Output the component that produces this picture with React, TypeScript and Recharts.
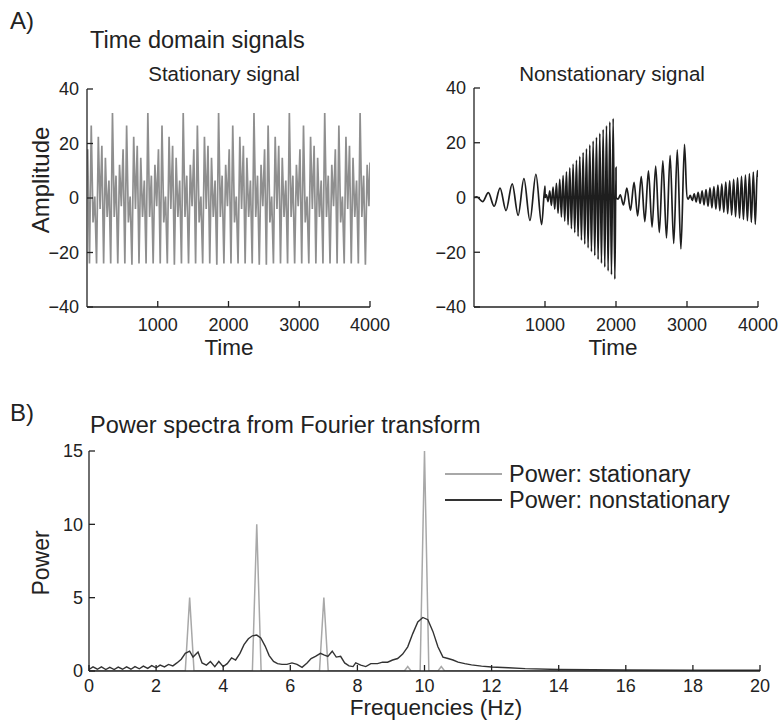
import React from "react";
import { LineChart, Line, XAxis, YAxis } from "recharts";

const FONT = '"Liberation Sans", Arial, Helvetica, sans-serif';
const INK = "#222";

// A) stationary signal, read as extrema: one row per 500-unit cycle
const stationaryStart = 14;
const stationaryEnd = 13;
const stationaryCycleStarts = [0, 500, 1000, 1500, 2000, 2500, 3000, 3500];
const stationaryOffsets = [10, 35, 60, 85, 110, 135, 160, 185, 210, 235, 260, 285, 310, 335, 360, 385, 410, 435, 460, 485];
const stationaryRows = [
  [17.9, -24, 26.6, -9, 0.5, -24, 22.5, -4, 19.2, -24, 14.8, -7, 6.4, -24, 31.2, -7, 8.2, -24, 12.2, -3],
  [17.9, -24, 26.6, -9, 0.5, -24.5, 22.5, -4, 19.2, -24, 14.8, -7, 6.4, -24, 31.2, -7, 8.2, -24, 12.2, -3],
  [17.9, -24, 26.6, -9, 0.5, -24, 22.5, -4, 19.2, -24.5, 14.8, -7, 6.4, -24, 31.2, -7, 8.2, -24, 12.2, -3],
  [17.9, -24, 26.6, -9, 0.5, -24, 22.5, -4, 19.2, -24, 14.8, -7, 6.4, -24.5, 31.2, -7, 8.2, -24, 12.2, -3],
  [17.9, -24, 26.6, -9, 0.5, -24, 22.5, -4, 19.2, -24, 14.8, -7, 6.4, -24, 31.2, -7, 8.2, -24.5, 12.2, -3],
  [17.9, -24.5, 26.6, -9, 0.5, -24, 22.5, -4, 19.2, -24, 14.8, -7, 6.4, -24, 31.2, -7, 8.2, -24, 12.2, -3],
  [17.9, -24, 26.6, -9, 0.5, -24, 22.5, -4, 19.2, -24, 14.8, -7, 6.4, -24, 31.2, -7, 8.2, -24, 12.2, -3],
  [17.9, -24, 26.6, -9, 0.5, -24, 22.5, -4, 19.2, -24, 14.8, -7, 6.4, -24, 31.2, -7, 8.2, -24.5, 12.2, -3],
];

// A) nonstationary signal, four segments read as extrema
const seg1Time = [0, 40, 122, 202, 284, 367, 451, 538, 622, 703, 788, 872, 953, 1000];
const seg1Amp = [0, 0.2, -1.5, 1.8, -3.2, 3.4, -4.8, 5.0, -6.5, 6.9, -8.4, 8.5, -9.9, 4.2];
const seg2Time = [1001, 1020, 1043, 1067, 1090, 1114, 1137, 1161, 1184, 1208, 1231, 1255, 1278, 1302, 1325, 1349, 1372, 1396, 1419, 1443, 1466, 1490, 1513, 1537, 1560, 1584, 1607, 1631, 1654, 1678, 1701, 1725, 1748, 1772, 1795, 1819, 1842, 1866, 1889, 1913, 1936, 1960, 1984, 2000];
const seg2Amp = [0, 1.0, -1.5, 2.4, -2.9, 3.8, -4.3, 5.2, -5.7, 6.6, -7.1, 8.0, -8.6, 9.4, -10.0, 10.8, -11.4, 12.2, -12.8, 13.6, -14.2, 15.0, -15.6, 16.4, -17.0, 17.8, -18.4, 19.2, -19.8, 20.6, -21.2, 22.0, -22.6, 23.4, -24.0, 24.8, -25.4, 26.2, -26.8, 27.6, -28.2, 28.8, -29.8, 11];
const seg3Time = [2001, 2030, 2060, 2105, 2153, 2204, 2254, 2305, 2356, 2406, 2457, 2508, 2559, 2610, 2660, 2711, 2762, 2813, 2863, 2914, 2965, 3000];
const seg3Amp = [0, -0.6, 1.0, -2.7, 3.4, -4.7, 5.5, -6.7, 7.6, -8.8, 9.7, -10.8, 11.5, -12.8, 13.4, -14.8, 15.4, -16.8, 17.4, -18.8, 19.4, 0];
const seg4Time = [3001, 3018, 3046, 3074, 3102, 3129, 3157, 3185, 3213, 3240, 3268, 3296, 3324, 3351, 3379, 3407, 3435, 3462, 3490, 3518, 3546, 3573, 3601, 3629, 3657, 3684, 3712, 3740, 3768, 3795, 3823, 3851, 3879, 3906, 3934, 3962, 3990, 4000];
const seg4Amp = [0, -0.6, 0.8, -1.1, 1.3, -1.6, 1.9, -2.2, 2.4, -2.7, 2.9, -3.2, 3.5, -3.8, 4.0, -4.3, 4.5, -4.8, 5.0, -5.4, 5.6, -5.9, 6.1, -6.4, 6.6, -7.0, 7.2, -7.5, 7.7, -8.0, 8.2, -8.5, 8.7, -9.1, 9.3, -9.8, 9.8, 7.5];

const timeTicks = [1000, 2000, 3000, 4000];
const ampTicks = [-40, -20, 0, 20, 40];

// B) power spectra
const statFreq = [0, 2.87, 3, 3.13, 4.87, 5, 5.13, 6.87, 7, 7.13, 9.4, 9.5, 9.6, 9.87, 10, 10.13, 10.4, 10.5, 10.6, 20];
const statPower = [0, 0, 5, 0, 0, 10, 0, 0, 5, 0, 0, 0.3, 0, 0, 15, 0, 0, 0.3, 0, 0];
const nonstatFreq = [0, 0.12, 0.25, 0.37, 0.5, 0.62, 0.75, 0.87, 1.0, 1.12, 1.25, 1.37, 1.5, 1.62, 1.75, 1.87, 2.0, 2.12, 2.25, 2.37, 2.5, 2.62, 2.75, 2.87, 3.0, 3.1, 3.25, 3.37, 3.5, 3.62, 3.75, 3.87, 4.0, 4.12, 4.25, 4.37, 4.5, 4.62, 4.75, 4.87, 5.0, 5.12, 5.25, 5.37, 5.5, 5.62, 5.75, 5.9, 6.05, 6.2, 6.35, 6.5, 6.62, 6.75, 6.9, 7.0, 7.12, 7.25, 7.37, 7.5, 7.62, 7.75, 7.87, 7.95, 8.1, 8.25, 8.4, 8.6, 8.75, 8.9, 9.05, 9.2, 9.35, 9.5, 9.65, 9.8, 9.95, 10.1, 10.25, 10.4, 10.55, 10.7, 10.85, 11.0, 11.2, 11.4, 11.7, 12.0, 12.5, 13.0, 14.0, 15.0, 16.0, 18.0, 20.0];
const nonstatPower = [0.1, 0.28, 0.12, 0.28, 0.1, 0.25, 0.1, 0.27, 0.12, 0.28, 0.12, 0.3, 0.15, 0.33, 0.18, 0.37, 0.22, 0.4, 0.28, 0.45, 0.35, 0.55, 0.8, 1.2, 1.35, 0.95, 1.3, 0.55, 0.4, 0.65, 0.3, 0.65, 0.3, 0.5, 0.9, 0.75, 1.2, 1.8, 2.2, 2.4, 2.45, 2.25, 1.7, 1.05, 0.65, 0.5, 0.45, 0.45, 0.55, 0.45, 0.25, 0.55, 0.85, 1.0, 1.2, 1.1, 1.0, 1.35, 0.95, 1.0, 0.55, 0.35, 0.3, 0.55, 0.4, 0.3, 0.5, 0.5, 0.6, 0.6, 0.75, 0.85, 1.15, 1.65, 2.55, 3.35, 3.65, 3.5, 2.7, 1.65, 0.95, 0.85, 0.75, 0.6, 0.5, 0.42, 0.33, 0.27, 0.22, 0.16, 0.1, 0.09, 0.07, 0.05, 0.05];
const freqTicks = [0, 2, 4, 6, 8, 10, 12, 14, 16, 18, 20];
const powerTicks = [0, 5, 10, 15];
const legendItems = ["Power: stationary", "Power: nonstationary"];
const specColors = ["#a8a8a8", "#333"];

const stationaryData = [
  { t: 0, v: stationaryStart },
  ...stationaryCycleStarts.flatMap((start, i) =>
    stationaryOffsets.map((off, j) => ({ t: start + off, v: stationaryRows[i][j] }))
  ),
  { t: 4000, v: stationaryEnd },
];

const nonstatTime = [...seg1Time, ...seg2Time, ...seg3Time, ...seg4Time];
const nonstatAmp = [...seg1Amp, ...seg2Amp, ...seg3Amp, ...seg4Amp];
const nonstationaryData = nonstatTime.map((t, i) => ({ t, v: nonstatAmp[i] }));

const statSpec = statFreq.map((f, i) => ({ f, p: statPower[i] }));
const nonstatSpec = nonstatFreq.map((f, i) => ({ f, p: nonstatPower[i] }));

const fmt = (v: number) => (v < 0 ? `\u2212${-v}` : `${v}`);
const axisLine = { stroke: INK, strokeWidth: 1.3 };

function Txt({ x, y, size, children, center = false, rotate = 0 }: any) {
  return (
    <div
      style={{
        position: "absolute",
        left: x,
        top: y,
        fontSize: size,
        lineHeight: 1,
        whiteSpace: "nowrap",
        color: INK,
        transform: `translate(${center ? "-50%" : "0"}, -50%) rotate(${rotate}deg)`,
      }}
    >
      {children}
    </div>
  );
}

function TimePanel({ data, color, width, left, type, marginLeft, marginRight, marginTop }: any) {
  return (
    <div style={{ position: "absolute", left, top: 60 }}>
      <LineChart width={width} height={290} margin={{ top: marginTop, right: marginRight, bottom: 13, left: marginLeft }}>
        <XAxis xAxisId="b" dataKey="t" type="number" domain={[0, 4000]} ticks={timeTicks} allowDataOverflow
          axisLine={axisLine} tickLine={axisLine} tickSize={-6} tickMargin={17} height={30}
          tick={{ fill: INK, fontSize: 18, fontFamily: FONT }} />
        <XAxis xAxisId="top" orientation="top" type="number" domain={[0, 4000]} ticks={[1000, 2000, 3000]} allowDataOverflow
          axisLine={axisLine} tickLine={axisLine} tickSize={-6} tick={false} height={0} />
        <YAxis yAxisId="l" type="number" domain={[-40, 40]} ticks={ampTicks} allowDataOverflow width={40}
          axisLine={axisLine} tickLine={axisLine} tickSize={-6} tickMargin={14} tickFormatter={fmt}
          tick={{ fill: INK, fontSize: 18, fontFamily: FONT }} />
        <YAxis yAxisId="r" orientation="right" type="number" domain={[-40, 40]} ticks={[-20, 0, 20]} allowDataOverflow width={0}
          axisLine={axisLine} tickLine={axisLine} tickSize={-6} tick={false} />
        <Line xAxisId="b" yAxisId="l" data={data} dataKey="v" type={type} stroke={color} strokeWidth={1.7}
          dot={false} isAnimationActive={false} />
      </LineChart>
    </div>
  );
}

function SpectrumLegend() {
  return (
    <div style={{ position: "absolute", left: 445, top: 461 }}>
      {legendItems.map((label, i) => (
        <div key={label} style={{ display: "flex", alignItems: "center", height: 26, fontSize: 23.5, color: INK }}>
          <svg width={64} height={10}>
            <line x1={0} y1={5} x2={57} y2={5} stroke={specColors[i]} strokeWidth={2.2} />
          </svg>
          <span>{label}</span>
        </div>
      ))}
    </div>
  );
}

export default function App() {
  return (
    <div style={{ position: "absolute", left: 0, top: 0, width: 781, height: 722, background: "#fff", fontFamily: FONT, overflow: "hidden" }}>
      <Txt x={10} y={21} size={24}>A)</Txt>
      <Txt x={90} y={41} size={23.5}>Time domain signals</Txt>
      <Txt x={224} y={74} size={20.5} center>Stationary signal</Txt>
      <Txt x={612} y={74} size={20.5} center>Nonstationary signal</Txt>
      <Txt x={41} y={180} size={24} center rotate={-90}>Amplitude</Txt>
      <Txt x={229} y={348} size={22.5} center>Time</Txt>
      <Txt x={613} y={348} size={22.5} center>Time</Txt>

      <TimePanel data={stationaryData} color="#8f8f8f" width={390} left={0} type="linear" marginLeft={47} marginRight={20} marginTop={29} />
      <TimePanel data={nonstationaryData} color="#1e1e1e" width={390} left={390} type="monotone" marginLeft={44} marginRight={22} marginTop={28} />

      <Txt x={10} y={413} size={24}>B)</Txt>
      <Txt x={90} y={426} size={23.5}>Power spectra from Fourier transform</Txt>
      <Txt x={41} y={563} size={23} center rotate={-90}>Power</Txt>
      <Txt x={436} y={708} size={22.5} center>Frequencies (Hz)</Txt>

      <div style={{ position: "absolute", left: 0, top: 400 }}>
        <LineChart width={781} height={300} margin={{ top: 51, right: 21, bottom: 4, left: 49 }}>
          <XAxis xAxisId="b" dataKey="f" type="number" domain={[0, 20]} ticks={freqTicks} allowDataOverflow
            axisLine={axisLine} tickLine={axisLine} tickSize={-6} tickMargin={14} height={25}
            tick={{ fill: INK, fontSize: 18, fontFamily: FONT }} />
          <XAxis xAxisId="top" orientation="top" type="number" domain={[0, 20]} ticks={freqTicks.slice(1, -1)} allowDataOverflow
            axisLine={axisLine} tickLine={axisLine} tickSize={-6} tick={false} height={0} />
          <YAxis yAxisId="l" type="number" domain={[0, 15]} ticks={powerTicks} allowDataOverflow width={40}
            axisLine={axisLine} tickLine={axisLine} tickSize={-6} tickMargin={12}
            tick={{ fill: INK, fontSize: 18, fontFamily: FONT }} />
          <YAxis yAxisId="r" orientation="right" type="number" domain={[0, 15]} ticks={[5, 10]} allowDataOverflow width={0}
            axisLine={axisLine} tickLine={axisLine} tickSize={-6} tick={false} />
          <Line xAxisId="b" yAxisId="l" data={statSpec} dataKey="p" name={legendItems[0]} type="linear"
            stroke={specColors[0]} strokeWidth={1.5} dot={false} isAnimationActive={false} />
          <Line xAxisId="b" yAxisId="l" data={nonstatSpec} dataKey="p" name={legendItems[1]} type="linear"
            stroke={specColors[1]} strokeWidth={1.4} dot={false} isAnimationActive={false} />
        </LineChart>
      </div>
      <SpectrumLegend />
    </div>
  );
}
